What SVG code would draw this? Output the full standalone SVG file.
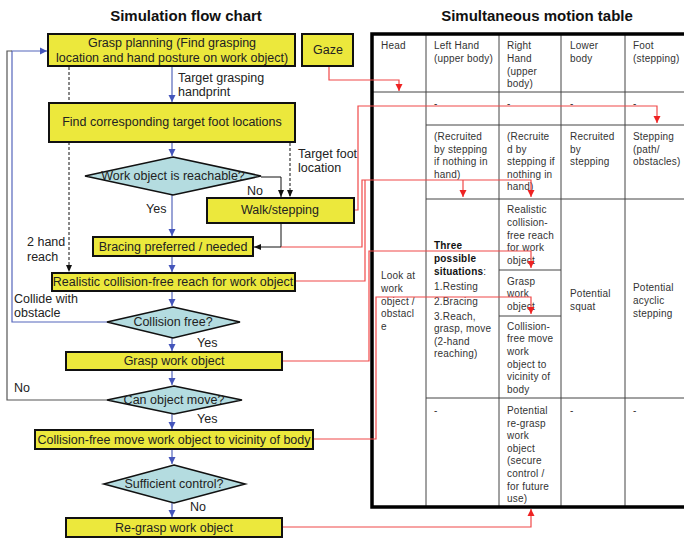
<svg xmlns="http://www.w3.org/2000/svg" width="684" height="539" viewBox="0 0 684 539">
<style>
.bg{fill:#ffffff}
.title{font-family:"Liberation Sans",Arial,sans-serif;font-weight:bold;font-size:15px;fill:#111;text-anchor:middle}
.box{fill:#ECE83C;stroke:#111;stroke-width:2}
.dia{fill:#B4DCE0;stroke:#111;stroke-width:1.6}
.t{font-family:"Liberation Sans",Arial,sans-serif;font-size:12.5px;fill:#222}
.c{text-anchor:middle}
.tt{font-family:"Liberation Sans",Arial,sans-serif;font-size:10px;fill:#333;letter-spacing:0.2px}
.b{font-weight:bold;fill:#111}
.blue{fill:none;stroke:#5566BB;stroke-width:1.2}
.gray{fill:none;stroke:#555;stroke-width:1.2}
.blk{fill:none;stroke:#111;stroke-width:1}
.dash{fill:none;stroke:#111;stroke-width:1;stroke-dasharray:3,2}
.red{fill:none;stroke:#F04848;stroke-width:1.2}
.grid{stroke:#444;stroke-width:1;fill:none}
.thick{stroke:#000;stroke-width:3.5;fill:none}
</style>
<defs>
<marker id="ab" markerWidth="8" markerHeight="8" refX="7" refY="4" orient="auto" markerUnits="userSpaceOnUse"><path d="M0,0.5 L7,4 L0,7.5 Z" fill="#4455BB"/></marker>
<marker id="ak" markerWidth="8" markerHeight="8" refX="7" refY="4" orient="auto" markerUnits="userSpaceOnUse"><path d="M0,1 L7,4 L0,7 Z" fill="#111"/></marker>
<marker id="ar" markerWidth="8" markerHeight="8" refX="7" refY="4" orient="auto" markerUnits="userSpaceOnUse"><path d="M0,0.5 L7,4 L0,7.5 Z" fill="#EE2222"/></marker>
</defs>
<rect class="bg" x="0" y="0" width="684" height="539"/>
<text class="title" x="186" y="21">Simulation flow chart</text>
<text class="title" x="537" y="21">Simultaneous motion table</text>

<!-- Table -->
<g id="table">
<line class="grid" x1="372" y1="92" x2="684" y2="92"/>
<line class="grid" x1="426" y1="125" x2="684" y2="125"/>
<line class="grid" x1="426" y1="199" x2="684" y2="199"/>
<line class="grid" x1="499" y1="270" x2="561" y2="270"/>
<line class="grid" x1="499" y1="316" x2="561" y2="316"/>
<line class="grid" x1="426" y1="398" x2="684" y2="398"/>
<line class="grid" x1="426" y1="34" x2="426" y2="507"/>
<line class="grid" x1="499" y1="34" x2="499" y2="507"/>
<line class="grid" x1="561" y1="34" x2="561" y2="507"/>
<line class="grid" x1="625" y1="34" x2="625" y2="507"/>
<path class="thick" d="M686,34 H372 V507 H686"/>
<text class="tt" x="381" y="49">Head</text>
<text class="tt" x="434" y="49">Left Hand</text>
<text class="tt" x="434" y="62">(upper body)</text>
<text class="tt" x="507" y="49">Right</text>
<text class="tt" x="507" y="62">Hand</text>
<text class="tt" x="507" y="75">(upper</text>
<text class="tt" x="507" y="87">body)</text>
<text class="tt" x="570" y="49">Lower</text>
<text class="tt" x="570" y="62">body</text>
<text class="tt" x="633" y="49">Foot</text>
<text class="tt" x="633" y="62">(stepping)</text>
<text class="tt" x="434" y="107">-</text>
<text class="tt" x="507" y="107">-</text>
<text class="tt" x="570" y="107">-</text>
<text class="tt" x="633" y="107">-</text>
<text class="tt" x="434" y="140">(Recruited</text>
<text class="tt" x="434" y="153">by stepping</text>
<text class="tt" x="434" y="165">if nothing in</text>
<text class="tt" x="434" y="178">hand)</text>
<text class="tt" x="507" y="140">(Recruite</text>
<text class="tt" x="507" y="153">d by</text>
<text class="tt" x="507" y="165">stepping if</text>
<text class="tt" x="507" y="178">nothing in</text>
<text class="tt" x="507" y="190">hand)</text>
<text class="tt" x="570" y="140">Recruited</text>
<text class="tt" x="570" y="153">by</text>
<text class="tt" x="570" y="165">stepping</text>
<text class="tt" x="633" y="140">Stepping</text>
<text class="tt" x="633" y="153">(path/</text>
<text class="tt" x="633" y="165">obstacles)</text>
<text class="tt" x="381" y="279">Look at</text>
<text class="tt" x="381" y="292">work</text>
<text class="tt" x="381" y="305">object /</text>
<text class="tt" x="381" y="317">obstacl</text>
<text class="tt" x="381" y="330">e</text>
<text class="tt b" x="434" y="249">Three</text>
<text class="tt b" x="434" y="262">possible</text>
<text class="tt" x="434" y="275"><tspan class="b">situations</tspan>:</text>
<text class="tt" x="434" y="290">1.Resting</text>
<text class="tt" x="434" y="305">2.Bracing</text>
<text class="tt" x="434" y="320">3.Reach,</text>
<text class="tt" x="434" y="332">grasp, move</text>
<text class="tt" x="434" y="345">(2-hand</text>
<text class="tt" x="434" y="357">reaching)</text>
<text class="tt" x="507" y="213">Realistic</text>
<text class="tt" x="507" y="226">collision-</text>
<text class="tt" x="507" y="239">free reach</text>
<text class="tt" x="507" y="251">for work</text>
<text class="tt" x="507" y="264">object</text>
<text class="tt" x="507" y="285">Grasp</text>
<text class="tt" x="507" y="297">work</text>
<text class="tt" x="507" y="310">object</text>
<text class="tt" x="507" y="330">Collision-</text>
<text class="tt" x="507" y="342">free move</text>
<text class="tt" x="507" y="355">work</text>
<text class="tt" x="507" y="368">object to</text>
<text class="tt" x="507" y="380">vicinity of</text>
<text class="tt" x="507" y="393">body</text>
<text class="tt" x="570" y="297">Potential</text>
<text class="tt" x="570" y="310">squat</text>
<text class="tt" x="633" y="291">Potential</text>
<text class="tt" x="633" y="304">acyclic</text>
<text class="tt" x="633" y="317">stepping</text>
<text class="tt" x="434" y="414">-</text>
<text class="tt" x="570" y="414">-</text>
<text class="tt" x="633" y="414">-</text>
<text class="tt" x="507" y="414">Potential</text>
<text class="tt" x="507" y="427">re-grasp</text>
<text class="tt" x="507" y="439">work</text>
<text class="tt" x="507" y="452">object</text>
<text class="tt" x="507" y="464">(secure</text>
<text class="tt" x="507" y="477">control /</text>
<text class="tt" x="507" y="490">for future</text>
<text class="tt" x="507" y="502">use)</text>
</g>

<!-- Connectors -->
<g id="connectors">
<line class="blue" x1="172" y1="66" x2="172" y2="102" marker-end="url(#ab)"/>
<line class="blue" x1="172" y1="143" x2="172" y2="156" marker-end="url(#ab)"/>
<line class="blue" x1="172" y1="195" x2="172" y2="236" marker-end="url(#ab)"/>
<line class="blue" x1="172" y1="257" x2="172" y2="272" marker-end="url(#ab)"/>
<line class="blue" x1="172" y1="292" x2="172" y2="306" marker-end="url(#ab)"/>
<line class="blue" x1="172" y1="338" x2="172" y2="351" marker-end="url(#ab)"/>
<line class="blue" x1="172" y1="371" x2="172" y2="385" marker-end="url(#ab)"/>
<line class="blue" x1="172" y1="414" x2="172" y2="429" marker-end="url(#ab)"/>
<line class="blue" x1="172" y1="450" x2="172" y2="464" marker-end="url(#ab)"/>
<line class="blue" x1="172" y1="503" x2="172" y2="517" marker-end="url(#ab)"/>
<polyline class="blue" points="107,322 12,322 12,51 47,51" marker-end="url(#ab)"/>
<polyline class="gray" points="107,400 7,400 7,51 12,51"/>
<polyline class="blk" points="261,177 281,177 281,197" marker-end="url(#ak)"/>
<line class="dash" x1="290" y1="143" x2="290" y2="197" marker-end="url(#ak)"/>
<line class="dash" x1="69" y1="67" x2="69" y2="272" marker-end="url(#ak)"/>
<polyline class="blk" points="281,224 281,247 254,247" marker-end="url(#ak)"/>
<polyline class="red" points="329,67 329,80 399,80 399,91" marker-end="url(#ar)"/>
<polyline class="red" points="355,210 358,210 358,106 657,106 657,123" marker-end="url(#ar)"/>
<polyline class="red" points="281,247 362,247 362,180 531,180 531,197" marker-end="url(#ar)"/>
<line class="red" x1="463" y1="180" x2="463" y2="197" marker-end="url(#ar)"/>
<polyline class="red" points="296,281 365,281 365,180"/>
<polyline class="red" points="283,361 369,361 369,251 531,251 531,268" marker-end="url(#ar)"/>
<polyline class="red" points="314,439 376,439 376,297 531,297 531,314" marker-end="url(#ar)"/>
<polyline class="red" points="283,527 531,527 531,509" marker-end="url(#ar)"/>
</g>

<!-- Nodes -->
<g id="grasp-planning">
<rect class="box" x="48" y="34" width="247" height="32"/>
<text class="t c" x="172" y="47">Grasp planning (Find grasping</text>
<text class="t c" x="172" y="62">location and hand posture on work object)</text>
</g>
<g id="gaze">
<rect class="box" x="302" y="34" width="51" height="32"/>
<text class="t c" x="328" y="54">Gaze</text>
</g>
<g id="find-foot">
<rect class="box" x="49" y="103" width="246" height="39"/>
<text class="t c" x="172" y="126">Find corresponding target foot locations</text>
</g>
<g id="reachable">
<polygon class="dia" points="173,157 261,176 173,195 85,176"/>
<text class="t c" x="173" y="180">Work object is reachable?</text>
</g>
<g id="walk">
<rect class="box" x="207" y="198" width="147" height="25"/>
<text class="t c" x="280" y="214">Walk/stepping</text>
</g>
<g id="bracing">
<rect class="box" x="93" y="237" width="160" height="19"/>
<text class="t c" x="173" y="251">Bracing preferred / needed</text>
</g>
<g id="reach">
<rect class="box" x="52" y="273" width="243" height="18"/>
<text class="t c" x="173" y="286">Realistic collision-free reach for work object</text>
</g>
<g id="collision-free">
<polygon class="dia" points="173,307 240,322 173,338 107,322"/>
<text class="t c" x="173" y="326">Collision free?</text>
</g>
<g id="grasp">
<rect class="box" x="66" y="352" width="216" height="18"/>
<text class="t c" x="174" y="365">Grasp work object</text>
</g>
<g id="can-move">
<polygon class="dia" points="174,386 242,400 174,414 107,400"/>
<text class="t c" x="174" y="404">Can object move?</text>
</g>
<g id="move">
<rect class="box" x="35" y="430" width="278" height="19"/>
<text class="t c" x="174" y="444">Collision-free move work object to vicinity of body</text>
</g>
<g id="sufficient">
<polygon class="dia" points="174,465 245,484 174,503 104,484"/>
<text class="t c" x="174" y="488">Sufficient control?</text>
</g>
<g id="regrasp">
<rect class="box" x="66" y="518" width="216" height="19"/>
<text class="t c" x="174" y="532">Re-grasp work object</text>
</g>

<g id="labels">
<text class="t" x="178" y="82">Target grasping</text>
<text class="t" x="178" y="96">handprint</text>
<text class="t" x="298" y="158">Target foot</text>
<text class="t" x="298" y="172">location</text>
<text class="t" x="247" y="195">No</text>
<text class="t" x="146" y="213">Yes</text>
<text class="t" x="27" y="246">2 hand</text>
<text class="t" x="27" y="261">reach</text>
<text class="t" x="14" y="303">Collide with</text>
<text class="t" x="14" y="317">obstacle</text>
<text class="t" x="197" y="347">Yes</text>
<text class="t" x="14" y="392">No</text>
<text class="t" x="197" y="423">Yes</text>
<text class="t" x="190" y="511">No</text>
</g>
</svg>
